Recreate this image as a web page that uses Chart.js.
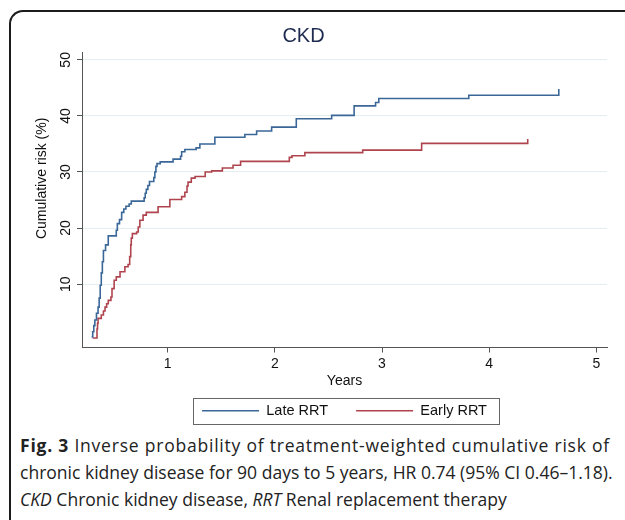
<!DOCTYPE html>
<html>
<head>
<meta charset="utf-8">
<script src="https://cdn.jsdelivr.net/npm/chart.js@4/dist/chart.umd.min.js"></script>
<style>
  html, body { margin: 0; padding: 0; background: #fff; }
  body { width: 625px; height: 520px; overflow: hidden; position: relative; }
  .frame {
    position: absolute; left: 9px; top: 10px; width: 700px; height: 600px;
    border-left: 2px solid #1c1c1c; border-top: 2px solid #1c1c1c;
    border-top-left-radius: 14px;
  }
  .plot { position: absolute; left: 0; top: 0; width: 625px; height: 432px; }
  .cap {
    position: absolute; left: 20px; top: 432px;
    font-family: "Open Sans", sans-serif; font-size: 16.5px; line-height: 27px;
    color: #222; white-space: nowrap;
  }
  .cap b { font-weight: 700; }
</style>
</head>
<body>
<div class="frame"></div>
<div class="plot"><canvas id="c" width="625" height="432"></canvas></div>
<div class="cap">
  <span class="ln"><b>Fig. 3</b> Inverse probability of treatment-weighted cumulative risk of</span><br>
  <span class="ln">chronic kidney disease for 90 days to 5 years, HR 0.74 (95% CI 0.46–1.18).</span><br>
  <span class="ln"><i>CKD</i> Chronic kidney disease, <i>RRT</i> Renal replacement therapy</span>
</div>
<script>
// years since RRT / cumulative risk (%) at each step
const lateX = [0.29, 0.30, 0.31, 0.32, 0.335, 0.35, 0.36, 0.37, 0.38, 0.39, 0.40, 0.42, 0.445,
  0.52, 0.53, 0.55, 0.57, 0.59, 0.61, 0.64, 0.66, 0.78, 0.79, 0.80, 0.815, 0.83, 0.87, 0.88,
  0.89, 0.90, 0.93, 1.05, 1.12, 1.13, 1.16, 1.265, 1.30, 1.44, 1.72, 1.83, 1.97, 2.20, 2.53,
  2.74, 2.94, 2.97, 3.81, 4.65];
const lateY = [0.6, 1.5, 2.6, 3.6, 4.8, 5.9, 7.5, 9.8, 12.0, 14.0, 16.0, 17.0, 18.6,
  19.6, 20.8, 21.5, 22.8, 23.4, 23.9, 24.3, 24.8, 25.4, 26.2, 26.9, 27.6, 28.3, 29.0, 30.0,
  31.0, 31.5, 31.8, 32.3, 32.8, 33.6, 34.0, 34.3, 35.0, 36.2, 36.7, 37.3, 38.0, 39.5, 40.1,
  41.8, 42.4, 43.1, 43.7, 44.8];

const earlyX = [0.30, 0.34, 0.345, 0.35, 0.38, 0.40, 0.415, 0.43, 0.445, 0.47, 0.48, 0.50,
  0.52, 0.555, 0.60, 0.63, 0.645, 0.655, 0.66, 0.67, 0.71, 0.725, 0.74, 0.77, 0.80, 0.91,
  1.02, 1.13, 1.16, 1.18, 1.19, 1.22, 1.255, 1.35, 1.41, 1.51, 1.61, 1.68, 2.135, 2.16,
  2.28, 2.82, 3.37, 4.36];
const earlyY = [0.4, 2.0, 3.0, 3.9, 4.5, 5.2, 5.9, 6.5, 7.1, 7.7, 9.2, 10.7,
  11.3, 12.2, 13.1, 13.5, 14.9, 17.0, 18.2, 19.0, 19.3, 20.2, 21.4, 22.3, 22.8, 23.8,
  25.1, 25.6, 26.4, 27.5, 28.2, 28.9, 29.2, 30.0, 30.2, 30.7, 31.2, 31.9, 32.6, 32.9,
  33.45, 33.9, 35.1, 35.9];

const seriesNames = ['Late RRT', 'Early RRT'];
const xTicks = [1, 2, 3, 4, 5];
const yTicks = [10, 20, 30, 40, 50];

const FONT = '"Liberation Sans", Arial, sans-serif';
const BLUE = '#3a6798';
const RED = '#b0444e';
const AX = '#555';

// box around the legend, like Stata does
const legendFrame = {
  id: 'legendFrame',
  afterDraw(chart) {
    const hb = chart.legend.legendHitBoxes;
    if (!hb || !hb.length) return;
    const last = hb[hb.length - 1];
    const l = Math.round(hb[0].left - 9);
    const r = Math.round(last.left + last.width + 12);
    const cy = Math.round(hb[0].top + hb[0].height / 2);
    const ctx = chart.ctx;
    ctx.save();
    ctx.strokeStyle = '#666';
    ctx.lineWidth = 1;
    ctx.strokeRect(l + 0.5, cy - 13 + 0.5, r - l, 26);
    ctx.restore();
  }
};

new Chart(document.getElementById('c'), {
  type: 'line',
  data: {
    datasets: [
      {
        label: seriesNames[0],
        data: lateX.map((x, i) => ({x: x, y: lateY[i]})),
        borderColor: BLUE, backgroundColor: BLUE,
        borderWidth: 1.6, pointRadius: 0, stepped: true, fill: false
      },
      {
        label: seriesNames[1],
        data: earlyX.map((x, i) => ({x: x, y: earlyY[i]})),
        borderColor: RED, backgroundColor: RED,
        borderWidth: 1.6, pointRadius: 0, stepped: true, fill: false
      }
    ]
  },
  options: {
    responsive: false,
    animation: false,
    events: [],
    layout: {padding: {left: 0, right: 18, top: 0, bottom: 4}},
    plugins: {
      title: {
        display: true, text: 'CKD', color: '#1e2b50',
        font: {family: FONT, size: 20, weight: 'normal'},
        padding: {top: 24.5, bottom: 3.5}
      },
      legend: {
        position: 'bottom', fullSize: false,
        labels: {
          usePointStyle: true, pointStyle: 'line', pointStyleWidth: 57, boxHeight: 14,
          padding: 28, color: '#111', font: {family: FONT, size: 14.5}
        }
      },
      tooltip: {enabled: false}
    },
    scales: {
      x: {
        type: 'linear', min: 0.2, max: 5.1,
        afterBuildTicks: a => { a.ticks = xTicks.map(v => ({value: v})); },
        afterFit: a => { a.height = 28; },
        grid: {drawOnChartArea: false, tickLength: 5, tickColor: AX},
        border: {color: AX, width: 1},
        ticks: {padding: 3, color: '#111', maxRotation: 0, font: {family: FONT, size: 14}},
        title: {
          display: true, text: 'Years', color: '#111',
          font: {family: FONT, size: 14}, padding: {top: 0, bottom: -14.4}
        }
      },
      y: {
        type: 'linear', min: -1.3, max: 51.4,
        afterBuildTicks: a => { a.ticks = yTicks.map(v => ({value: v})); },
        afterFit: a => { a.width = 82; },
        grid: {color: '#e4eef0', tickLength: 5, tickColor: AX},
        border: {color: AX, width: 1},
        ticks: {
          minRotation: 90, maxRotation: 90, crossAlign: 'center', padding: 3,
          color: '#111', font: {family: FONT, size: 14}
        },
        title: {
          display: true, text: ' '.repeat(11) + 'Cumulative risk (%)', color: '#111',
          font: {family: FONT, size: 14}, padding: {top: 33.6, bottom: 0}
        }
      }
    }
  },
  plugins: [legendFrame]
});

// fit caption lines to the width they take in the figure
const cap = document.querySelector('.cap');
const lines = document.querySelectorAll('.cap .ln');
const w2 = lines[1].getBoundingClientRect().width;
if (w2 > 0) {
  cap.style.fontSize = (16.5 * 593 / w2).toFixed(2) + 'px';
  const w1 = lines[0].getBoundingClientRect().width;
  const n1 = lines[0].textContent.length;
  lines[0].style.letterSpacing = ((590 - w1) / n1).toFixed(3) + 'px';
}
</script>
</body>
</html>
